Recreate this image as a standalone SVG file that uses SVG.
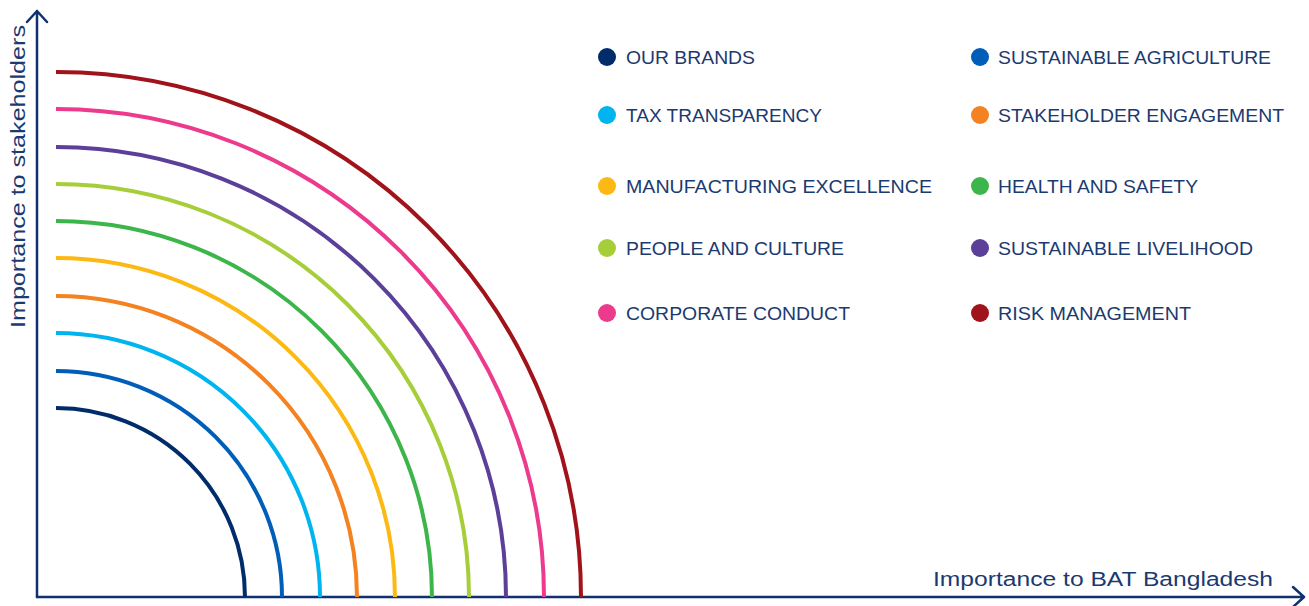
<svg xmlns="http://www.w3.org/2000/svg" width="1309" height="606" viewBox="0 0 1309 606">
<style>
.ax{fill:none;stroke:#0f3170;stroke-width:2.5;stroke-linecap:round;stroke-linejoin:round}
.arc{fill:none;stroke-width:4}
.lg{font-family:"Liberation Sans",Arial,sans-serif;font-size:17.5px;fill:#1b3a6f}
.axl{font-family:"Liberation Sans",Arial,sans-serif;font-size:20px;fill:#1b3a6f}
</style>
<rect width="1309" height="606" fill="#ffffff"/>
<g id="axes">
<path class="ax" d="M37 597 L37 11 M27 22 L37 11 L47 22"/>
<path class="ax" d="M37 597 L1304 597 M1293 587 L1304 597 L1293 607"/>
<text class="axl" x="933" y="586" textLength="340" lengthAdjust="spacingAndGlyphs">Importance to BAT Bangladesh</text>
<text class="axl" transform="translate(25,328) rotate(-90)" x="0" y="0" textLength="303" lengthAdjust="spacingAndGlyphs">Importance to stakeholders</text>
</g>
<g id="arcs">
<path id="arc-our-brands" class="arc" stroke="#002d6a" d="M56 408 A189 189 0 0 1 245 597"/>
<path id="arc-sustainable-agriculture" class="arc" stroke="#005eb8" d="M56 371 A226 226 0 0 1 282 597"/>
<path id="arc-tax-transparency" class="arc" stroke="#00b5ef" d="M56 333 A264 264 0 0 1 320 597"/>
<path id="arc-stakeholder-engagement" class="arc" stroke="#f58220" d="M56 296 A301 301 0 0 1 357 597"/>
<path id="arc-manufacturing-excellence" class="arc" stroke="#fdb913" d="M56 258 A339 339 0 0 1 395 597"/>
<path id="arc-health-and-safety" class="arc" stroke="#3cb54a" d="M56 221 A376 376 0 0 1 432 597"/>
<path id="arc-people-and-culture" class="arc" stroke="#a6ce39" d="M56 184 A413 413 0 0 1 469 597"/>
<path id="arc-sustainable-livelihood" class="arc" stroke="#5b3f99" d="M56 147 A450 450 0 0 1 506 597"/>
<path id="arc-corporate-conduct" class="arc" stroke="#ec3b8d" d="M56 109 A488 488 0 0 1 544 597"/>
<path id="arc-risk-management" class="arc" stroke="#a1131a" d="M56 72 A525 525 0 0 1 581 597"/>
</g>
<g id="legend">
<g id="lg-our-brands"><circle cx="607" cy="57" r="9" fill="#002d6a"/><text class="lg" x="626" y="64" textLength="129" lengthAdjust="spacingAndGlyphs">OUR BRANDS</text></g>
<g id="lg-tax-transparency"><circle cx="607" cy="115" r="9" fill="#00b5ef"/><text class="lg" x="626" y="122" textLength="196" lengthAdjust="spacingAndGlyphs">TAX TRANSPARENCY</text></g>
<g id="lg-manufacturing-excellence"><circle cx="607" cy="186" r="9" fill="#fdb913"/><text class="lg" x="626" y="193" textLength="306" lengthAdjust="spacingAndGlyphs">MANUFACTURING EXCELLENCE</text></g>
<g id="lg-people-and-culture"><circle cx="607" cy="248" r="9" fill="#a6ce39"/><text class="lg" x="626" y="255" textLength="218" lengthAdjust="spacingAndGlyphs">PEOPLE AND CULTURE</text></g>
<g id="lg-corporate-conduct"><circle cx="607" cy="313" r="9" fill="#ec3b8d"/><text class="lg" x="626" y="320" textLength="224" lengthAdjust="spacingAndGlyphs">CORPORATE CONDUCT</text></g>
<g id="lg-sustainable-agriculture"><circle cx="980" cy="57" r="9" fill="#005eb8"/><text class="lg" x="998" y="64" textLength="273" lengthAdjust="spacingAndGlyphs">SUSTAINABLE AGRICULTURE</text></g>
<g id="lg-stakeholder-engagement"><circle cx="980" cy="115" r="9" fill="#f58220"/><text class="lg" x="998" y="122" textLength="286" lengthAdjust="spacingAndGlyphs">STAKEHOLDER ENGAGEMENT</text></g>
<g id="lg-health-and-safety"><circle cx="980" cy="186" r="9" fill="#3cb54a"/><text class="lg" x="998" y="193" textLength="200" lengthAdjust="spacingAndGlyphs">HEALTH AND SAFETY</text></g>
<g id="lg-sustainable-livelihood"><circle cx="980" cy="248" r="9" fill="#5b3f99"/><text class="lg" x="998" y="255" textLength="255" lengthAdjust="spacingAndGlyphs">SUSTAINABLE LIVELIHOOD</text></g>
<g id="lg-risk-management"><circle cx="980" cy="313" r="9" fill="#a1131a"/><text class="lg" x="998" y="320" textLength="193" lengthAdjust="spacingAndGlyphs">RISK MANAGEMENT</text></g>
</g>
</svg>
